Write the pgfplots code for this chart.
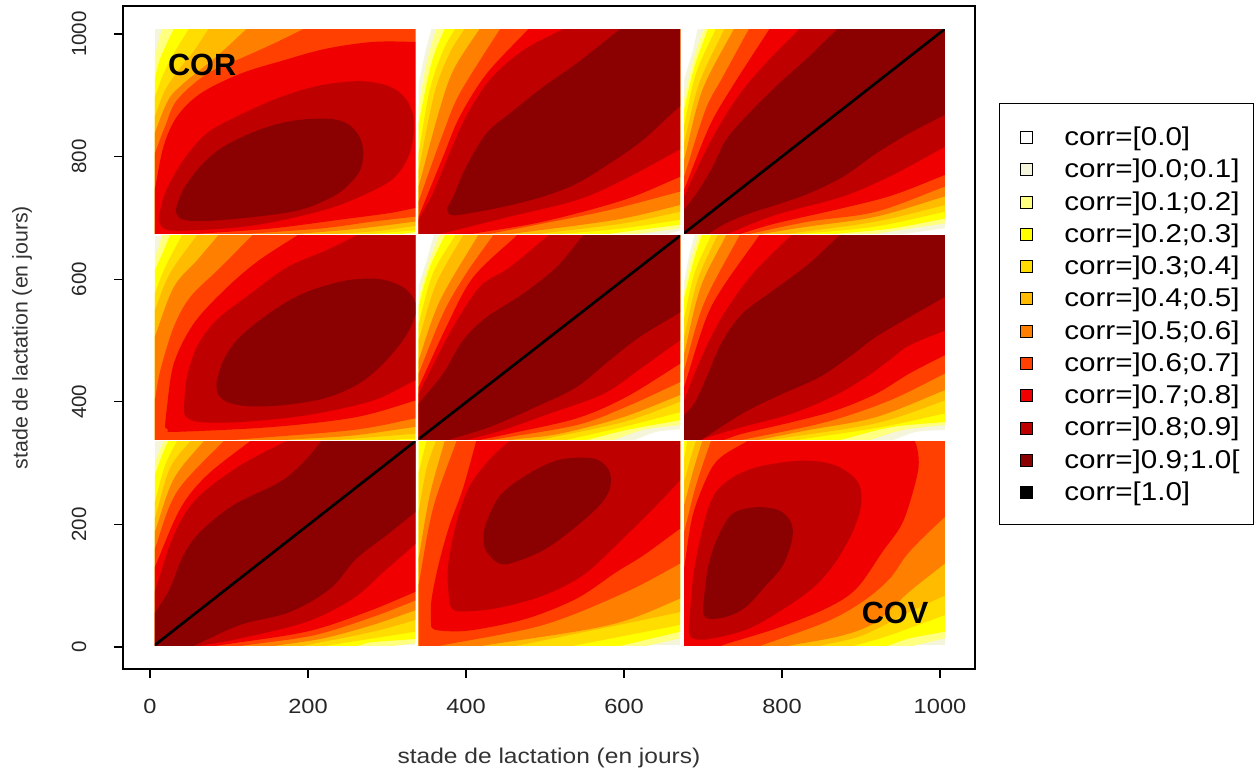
\documentclass[border=0pt]{standalone}
\usepackage{fontspec}
\setmainfont{Liberation Sans}
\newfontfamily\xf[FakeStretch=1.15]{Liberation Sans}
\usepackage{pgfplots}
\pgfplotsset{compat=1.18}
\definecolor{c0}{HTML}{F5F5DC}
\definecolor{c1}{HTML}{FFFF80}
\definecolor{c2}{HTML}{FFFF00}
\definecolor{c3}{HTML}{FFDD00}
\definecolor{c4}{HTML}{FFBB00}
\definecolor{c5}{HTML}{FF8000}
\definecolor{c6}{HTML}{FF4000}
\definecolor{c7}{HTML}{F00000}
\definecolor{c8}{HTML}{BF0000}
\definecolor{c9}{HTML}{8B0000}
\newcommand\rg[2]{\addplot[forget plot,draw=none,fill=#1] coordinates {#2} --cycle;}
\newcommand\rs[2]{\addplot[forget plot,draw=none,fill=#1,smooth,tension=0.55] coordinates {#2} --cycle;}
\newcommand\dg[2]{\addplot[forget plot,black,line width=2pt] coordinates {#1#2};}
\newcommand\li[2]{\addlegendimage{legend image code/.code={\draw[black,fill=#1,line width=0.6pt] (7.2pt,-5.5pt) rectangle (16.2pt,3.5pt);\path[draw=none] (0,0) -- (38.2pt,0);}}\addlegendentry{#2}}
\newcommand\pan[4]{%
 \pgfmathsetmacro\pl{92.25+(#1+34.2)*0.5925}%
 \pgfmathsetmacro\pb{78.75+(#3+35.9)*0.45975}%
 \pgfmathsetmacro\pw{(#2-#1)*0.5925}%
 \pgfmathsetmacro\ph{(#4-#3)*0.45975}%
 \pgfplotsset{pan/.style={hide axis,at={(\pl pt,\pb pt)},anchor=south west,scale only axis,width=\pw pt,height=\ph pt,xmin=#1,xmax=#2,ymin=#3,ymax=#4}}}
\begin{document}
\begin{tikzpicture}
\path[use as bounding box] (0,0) rectangle (941.25pt,580.5pt);
% ---- top left
\pan{6}{336}{675}{1008}
\begin{axis}[pan]
\rg{c0}{(6,675)(6,1008)(336,1008)(336,675)}
\rs{c1}{(-30,640)(5,955)(6,963)(9,979)(15,1008)(18,1022)(372,1044)(372,640)}
\rs{c2}{(-30,640)(3,912)(6,927)(12,957)(21,984)(30,1008)(35,1020)(372,1044)(342,678)(336,677)(325,675)(319,674)}
\rs{c3}{(-30,640)(0,878)(6,897)(17,935)(30,968)(49,1008)(58,1028)(372,1044)(363,684)(336,680)(291,675)(269,672)}
\rs{c4}{(-30,640)(0,844)(6,865)(19,908)(36,941)(56,973)(74,1008)(83,1020)(372,1044)(358,692)(336,687)(291,679)(249,675)(228,673)}
\rs{c5}{(-30,640)(0,811)(6,838)(23,892)(42,919)(84,963)(122,1008)(141,1030)(372,1044)(373,700)(336,694)(261,682)(198,675)(167,671)}
\rs{c6}{(-30,640)(0,783)(6,805)(19,849)(34,892)(72,935)(118,962)(156,984)(194,1008)(213,1020)(372,1044)(363,706)(336,702)(282,694)(219,683)(135,675)(93,671)}
\rs{c7}{(-30,640)(0,711)(6,746)(17,816)(34,865)(64,903)(114,935)(169,957)(223,976)(282,987)(336,987)(372,985)(372,720)(336,716)(304,708)(240,697)(156,683)(72,675)(30,671)}
\rs{c8}{(11,697)(13,713)(21,746)(42,794)(72,838)(114,868)(165,897)(215,916)(266,923)(304,914)(325,892)(334,859)(331,816)(320,783)(299,756)(240,721)(177,699)(114,685)(38,679)(17,683)(11,697)}
\rs{c9}{(33,716)(42,746)(63,783)(89,813)(127,838)(164,854)(198,861)(232,861)(253,851)(266,830)(270,805)(266,778)(253,756)(232,735)(190,713)(135,702)(72,695)(42,697)(33,708)(33,716)}
\end{axis}
% ---- top middle
\pan{340}{671}{675}{1008}
\begin{axis}[pan]
\rs{c0}{(304,640)(336,900)(340,919)(348,968)(356,1008)(360,1028)(707,1044)(690,685)(671,679)(658,675)(652,672)}
\rs{c1}{(304,640)(335,845)(340,881)(350,952)(362,1008)(368,1036)(707,1044)(695,687)(671,683)(624,675)(600,671)}
\rs{c2}{(304,640)(334,816)(340,854)(352,930)(360,968)(373,1008)(380,1028)(707,1044)(714,697)(671,689)(586,675)(544,668)}
\rs{c3}{(304,640)(333,754)(340,805)(354,908)(371,973)(386,1008)(394,1026)(707,1044)(707,704)(671,697)(599,683)(531,675)(497,671)}
\rs{c4}{(304,640)(330,716)(340,778)(360,903)(379,968)(398,1008)(408,1028)(707,1044)(707,719)(671,710)(599,691)(498,675)(447,667)}
\rs{c5}{(304,640)(327,692)(340,751)(365,870)(384,941)(417,1008)(434,1042)(707,1044)(707,733)(671,721)(590,697)(464,675)(401,664)}
\rs{c6}{(304,640)(333,702)(340,727)(354,778)(371,838)(392,903)(443,1008)(469,1060)(707,1044)(707,756)(671,743)(582,713)(498,691)(434,675)(402,667)}
\rs{c7}{(304,640)(325,655)(340,702)(371,800)(392,865)(426,935)(479,1008)(505,1044)(707,1044)(707,786)(671,767)(599,729)(498,694)(413,675)(370,665)}
\rs{c8}{(304,640)(331,675)(340,697)(358,740)(379,805)(400,865)(430,925)(472,973)(523,1008)(550,1026)(707,1044)(707,837)(671,812)(599,762)(540,729)(455,702)(371,675)(355,670)}
\rs{c9}{(376,716)(384,735)(400,783)(426,838)(455,870)(498,914)(540,952)(595,1008)(623,1036)(707,1044)(707,910)(671,882)(624,827)(582,789)(540,756)(498,735)(447,718)(392,705)(379,706)(376,716)}
\end{axis}
% ---- top right
\pan{676}{1006}{675}{1008}
\begin{axis}[pan]
\rs{c0}{(640,640)(673,900)(676,925)(687,973)(693,1008)(696,1026)(1042,1044)(1028,687)(1006,683)(961,675)(939,671)}
\rs{c1}{(640,640)(670,861)(676,895)(689,963)(701,1008)(707,1030)(1042,1044)(1047,699)(1006,691)(923,675)(881,667)}
\rs{c2}{(640,640)(670,841)(676,876)(689,946)(706,1008)(714,1039)(1042,1044)(1039,707)(1006,699)(940,683)(877,675)(845,671)}
\rs{c3}{(640,640)(668,809)(676,851)(691,935)(716,1008)(729,1044)(1042,1044)(1049,722)(1006,710)(919,686)(834,675)(791,670)}
\rs{c4}{(640,640)(666,772)(676,821)(695,919)(727,1008)(743,1052)(1042,1044)(1049,735)(1006,721)(919,694)(813,675)(760,665)}
\rs{c5}{(640,640)(664,737)(676,794)(699,908)(739,1008)(759,1058)(1042,1044)(1049,751)(1006,735)(919,702)(834,686)(780,675)(753,669)}
\rs{c6}{(640,640)(662,712)(676,767)(703,876)(725,930)(758,1008)(774,1047)(1042,1044)(1049,771)(1006,751)(919,710)(834,694)(763,675)(727,665)}
\rs{c7}{(640,640)(660,695)(676,746)(708,849)(737,914)(784,1008)(807,1055)(1042,1044)(1039,787)(1006,770)(940,737)(877,716)(792,691)(750,675)(729,667)}
\rs{c8}{(640,640)(660,692)(676,735)(708,821)(741,892)(775,946)(822,1008)(846,1039)(1042,1044)(1039,839)(1006,816)(940,770)(877,735)(792,705)(733,675)(703,660)}
\rs{c9}{(640,640)(666,696)(676,713)(695,746)(712,783)(729,827)(754,865)(792,914)(834,963)(870,1008)(888,1030)(1042,1044)(1028,883)(1006,868)(961,838)(919,805)(877,767)(834,740)(792,721)(760,708)(730,692)(708,675)(696,664)}
\dg{(676,675)}{(1006,1008)}
\end{axis}
% ---- middle left
\pan{6}{336}{339}{671}
\begin{axis}[pan]
\rg{c0}{(6,339)(6,671)(336,671)(336,339)}
\rs{c1}{(-30,303)(4,628)(6,636)(11,652)(15,671)(17,681)(372,707)(372,303)}
\rs{c2}{(-30,303)(2,600)(6,614)(15,640)(25,671)(30,686)(372,707)(372,303)}
\rs{c3}{(-30,303)(0,554)(6,576)(19,619)(40,671)(50,697)(372,707)(360,342)(336,340)(316,339)(306,337)}
\rs{c4}{(-30,303)(-4,520)(6,549)(25,609)(59,671)(76,702)(372,707)(380,353)(336,348)(249,339)(205,334)}
\rs{c5}{(-30,303)(-6,466)(6,506)(30,587)(59,630)(86,671)(100,692)(372,707)(376,366)(336,359)(257,345)(186,339)(150,336)}
\rs{c6}{(-30,303)(2,378)(6,402)(13,451)(30,522)(51,571)(89,619)(129,671)(149,697)(372,707)(376,382)(336,373)(257,354)(118,339)(48,331)}
\rs{c7}{(19,359)(21,386)(30,462)(55,527)(93,581)(135,628)(186,671)(212,692)(372,707)(372,415)(336,402)(261,375)(156,359)(34,351)(23,354)(19,359)}
\rs{c8}{(43,386)(46,435)(59,489)(84,533)(127,576)(173,619)(223,647)(261,671)(280,683)(372,707)(372,451)(336,435)(282,402)(198,378)(114,367)(63,367)(46,375)(43,386)}
\rs{c9}{(84,430)(93,468)(114,506)(156,549)(198,579)(249,598)(291,600)(320,587)(335,565)(335,538)(320,500)(291,457)(261,427)(219,405)(164,394)(122,393)(97,400)(86,413)(84,430)}
\end{axis}
% ---- middle middle
\pan{340}{671}{339}{671}
\begin{axis}[pan]
\rs{c0}{(304,303)(335,570)(340,590)(350,630)(359,671)(364,691)(707,707)(686,357)(671,355)(641,351)(616,339)(603,333)}
\rs{c1}{(304,303)(334,548)(340,571)(352,625)(366,671)(373,694)(707,707)(695,366)(671,362)(624,354)(590,339)(573,331)}
\rs{c2}{(304,303)(333,526)(340,557)(354,619)(373,671)(383,697)(707,707)(705,378)(671,370)(603,354)(557,339)(534,331)}
\rs{c3}{(304,303)(331,486)(340,527)(358,609)(386,671)(400,702)(707,707)(707,395)(671,383)(599,359)(531,339)(497,329)}
\rs{c4}{(304,303)(329,454)(340,500)(362,592)(396,671)(413,710)(707,707)(707,416)(671,400)(599,367)(498,339)(448,325)}
\rs{c5}{(304,303)(327,419)(340,468)(367,565)(415,671)(439,724)(707,707)(707,429)(671,411)(599,375)(519,348)(464,339)(437,334)}
\rs{c6}{(304,303)(325,397)(340,446)(371,544)(400,609)(434,671)(451,702)(707,707)(707,452)(671,432)(603,392)(540,362)(438,339)(387,327)}
\rs{c7}{(304,303)(322,375)(340,424)(375,522)(409,603)(464,671)(491,705)(707,707)(707,489)(671,462)(603,408)(540,373)(455,348)(422,339)(405,334)}
\rs{c8}{(304,303)(320,364)(340,413)(379,511)(417,587)(455,619)(504,671)(529,697)(707,707)(707,525)(671,500)(624,457)(574,413)(506,381)(447,354)(405,339)(385,331)}
\rs{c9}{(304,303)(324,372)(340,397)(371,446)(396,500)(426,538)(472,576)(514,619)(548,671)(565,697)(707,707)(707,576)(671,546)(620,506)(582,468)(540,424)(489,392)(430,359)(381,339)(360,329)}
\dg{(340,339)}{(671,671)}
\end{axis}
% ---- middle right
\pan{676}{1006}{339}{671}
\begin{axis}[pan]
\rs{c0}{(640,303)(673,575)(676,595)(682,636)(689,671)(692,689)(1042,707)(1024,356)(1006,354)(970,351)(944,339)(931,333)}
\rs{c1}{(640,303)(672,553)(676,579)(684,630)(694,671)(699,691)(1042,707)(1033,366)(1006,362)(953,354)(915,339)(896,331)}
\rs{c2}{(640,303)(671,540)(676,568)(687,625)(698,671)(704,694)(1042,707)(1039,371)(1006,367)(940,359)(877,339)(845,329)}
\rs{c3}{(640,303)(670,498)(676,535)(689,609)(710,671)(721,702)(1042,707)(1046,392)(1006,381)(927,359)(826,339)(776,329)}
\rs{c4}{(640,303)(667,460)(676,506)(693,598)(718,671)(731,707)(1042,707)(1049,420)(1006,402)(919,365)(792,339)(729,326)}
\rs{c5}{(640,303)(665,423)(676,478)(697,587)(729,671)(745,713)(1042,707)(1049,441)(1006,419)(919,375)(834,354)(775,339)(745,331)}
\rs{c6}{(640,303)(664,396)(676,451)(701,560)(746,671)(769,726)(1042,707)(1041,468)(1006,446)(936,402)(856,367)(754,339)(703,325)}
\rs{c7}{(640,303)(662,369)(676,424)(703,533)(725,587)(771,671)(794,713)(1042,707)(1039,498)(1006,476)(961,446)(919,413)(868,386)(813,367)(750,348)(729,339)(703,329)}
\rs{c8}{(640,303)(668,378)(676,402)(691,451)(708,500)(729,549)(763,609)(811,671)(835,702)(1042,707)(1028,527)(1006,516)(961,492)(936,468)(906,440)(868,411)(813,381)(750,359)(708,343)(690,333)}
\rs{c9}{(640,303)(668,365)(676,378)(691,402)(708,451)(725,500)(750,544)(788,581)(834,625)(872,671)(891,694)(1042,707)(1028,587)(1006,571)(961,538)(919,506)(885,473)(847,440)(792,408)(750,381)(699,339)(687,329)}
\end{axis}
% ---- bottom left
\pan{6}{336}{3}{336}
\begin{axis}[pan]
\rg{c0}{(6,3)(6,336)(336,336)(336,3)}
\rs{c1}{(-30,-33)(3,290)(6,301)(13,323)(17,336)(19,343)(372,372)(346,7)(336,6)(316,3)(306,1)}
\rs{c2}{(-30,-33)(2,264)(6,280)(15,312)(23,336)(27,348)(372,372)(363,16)(336,13)(282,8)(266,3)(258,1)}
\rs{c3}{(-30,-33)(0,206)(6,236)(19,296)(34,336)(41,356)(372,372)(363,31)(336,25)(282,14)(228,3)(201,-3)}
\rs{c4}{(-30,-33)(-4,168)(6,209)(25,291)(51,336)(64,358)(372,372)(363,54)(336,44)(282,25)(198,3)(156,-8)}
\rs{c5}{(-30,-33)(-6,144)(6,187)(30,274)(68,336)(87,367)(372,372)(363,72)(336,60)(282,36)(219,14)(164,3)(136,-3)}
\rs{c6}{(-30,-33)(-8,114)(6,160)(34,253)(93,336)(122,377)(372,372)(363,90)(336,76)(282,49)(207,19)(122,3)(80,-5)}
\rs{c7}{(-30,-33)(-10,83)(6,130)(38,225)(72,280)(127,336)(155,364)(372,372)(367,107)(336,90)(274,57)(198,25)(89,3)(35,-8)}
\rs{c8}{(-30,-33)(-6,44)(6,90)(30,182)(59,242)(114,296)(173,336)(202,356)(372,372)(356,191)(336,168)(295,122)(257,79)(198,41)(114,14)(68,3)(45,-3)}
\rs{c9}{(-30,-33)(-4,35)(6,55)(25,95)(42,149)(63,187)(105,231)(164,269)(194,301)(217,336)(228,353)(372,372)(355,239)(336,220)(299,182)(261,144)(228,95)(177,57)(114,36)(57,3)(28,-13)}
\dg{(6,3)}{(336,336)}
\end{axis}
% ---- bottom middle
\pan{340}{671}{3}{336}
\begin{axis}[pan]
\rg{c0}{(340,3)(340,336)(671,336)(671,3)}
\rs{c1}{(304,-33)(304,372)(707,372)(690,19)(671,14)(633,3)(614,-3)}
\rs{c2}{(304,-33)(304,372)(707,372)(707,36)(671,25)(599,3)(563,-8)}
\rs{c3}{(304,-33)(335,260)(340,285)(350,336)(355,362)(707,372)(700,44)(671,36)(540,3)(475,-13)}
\rs{c4}{(304,-33)(335,185)(340,220)(350,291)(362,336)(368,358)(707,372)(700,68)(671,57)(468,3)(404,-13)}
\rs{c5}{(304,-33)(333,92)(340,144)(354,247)(373,336)(382,380)(707,372)(707,101)(671,79)(582,36)(426,3)(348,-13)}
\rs{c6}{(304,-33)(331,39)(340,101)(358,225)(388,336)(403,391)(707,372)(707,159)(671,136)(603,90)(498,36)(371,3)(320,-10)}
\rs{c7}{(356,33)(356,74)(365,133)(379,198)(396,258)(413,336)(422,375)(707,372)(707,225)(671,193)(624,149)(590,122)(540,79)(476,46)(405,27)(365,27)(356,33)}
\rs{c8}{(379,74)(377,128)(388,204)(405,263)(430,306)(455,336)(470,351)(707,372)(686,292)(671,272)(641,231)(590,166)(548,117)(498,84)(438,63)(392,58)(381,65)(379,74)}
\rs{c9}{(422,182)(426,204)(443,247)(476,280)(514,304)(548,309)(569,304)(582,285)(582,258)(569,231)(536,193)(498,158)(455,136)(438,139)(424,160)(422,182)}
\end{axis}
% ---- bottom right
\pan{676}{1006}{3}{336}
\begin{axis}[pan]
\rg{c0}{(676,3)(676,336)(1006,336)(1006,3)}
\rs{c1}{(640,-33)(640,372)(1042,372)(1024,19)(1006,14)(970,3)(952,-3)}
\rs{c2}{(640,-33)(640,372)(1042,372)(1029,31)(1006,25)(961,14)(936,3)(920,-3)}
\rs{c3}{(640,-33)(671,292)(676,307)(680,336)(682,350)(1042,372)(1041,68)(1006,52)(936,19)(894,3)(873,-5)}
\rs{c4}{(640,-33)(669,250)(676,269)(684,307)(691,336)(695,350)(1042,372)(1028,98)(1006,84)(961,57)(902,19)(851,3)(825,-5)}
\rs{c5}{(640,-33)(670,204)(676,231)(687,285)(699,336)(705,361)(1042,372)(1028,159)(1006,136)(961,90)(919,41)(877,19)(813,3)(781,-5)}
\rs{c6}{(640,-33)(668,149)(676,187)(691,263)(710,336)(720,372)(1042,372)(1034,241)(1006,212)(961,155)(936,111)(902,74)(856,41)(775,3)(735,-16)}
\rs{c7}{(640,-33)(670,85)(676,128)(687,215)(708,285)(725,312)(756,336)(770,352)(955,352)(968,336)(973,307)(970,274)(953,204)(927,155)(894,95)(856,63)(792,30)(725,3)(700,-12)}
\rs{c8}{(682,25)(689,128)(708,231)(729,269)(767,293)(826,304)(868,296)(896,269)(900,231)(889,187)(868,139)(843,101)(809,68)(758,30)(708,13)(687,14)(682,25)}
\rs{c9}{(700,63)(706,128)(718,177)(737,217)(767,228)(796,223)(811,204)(813,177)(801,133)(780,101)(754,65)(729,49)(708,46)(701,52)(700,63)}
\end{axis}
% ---- frame, ticks, labels, legend
\begin{axis}[
  at={(92.25pt,78.75pt)},anchor=south west,
  scale only axis,width=639pt,height=497.25pt,
  xmin=-34.2,xmax=1044.3,ymin=-35.9,ymax=1045.7,
  xtick={0,200,400,600,800,1000},ytick={0,200,400,600,800,1000},
  scaled ticks=false,
  tick align=outside,tick pos=left,major tick length=7pt,
  every tick/.style={black,line width=0.8pt},
  axis line style={line width=0.8pt},
  /pgf/number format/assume math mode=true,
  /pgf/number format/set thousands separator={},
  xticklabel style={yshift=-12pt,font=\xf\fontsize{15.4}{18}\selectfont,color=black!85},
  yticklabel style={rotate=90,anchor=south,yshift=17pt,font=\fontsize{15.4}{18}\selectfont,color=black!85},
  xlabel={stade de lactation (en jours)},
  ylabel={stade de lactation (en jours)},
  every axis x label/.style={at={(axis description cs:0.5,-0.134)},anchor=center,font=\xf\fontsize{16}{18}\selectfont,color=black!80},
  every axis y label/.style={at={(axis description cs:-0.1185,0.5)},rotate=90,anchor=center,font=\fontsize{16}{18}\selectfont,color=black!80},
  legend cell align=left,
  legend style={at={(axis description cs:1.0282,0.8537)},anchor=north west,
    draw=black,line width=0.6pt,inner xsep=8.5pt,inner ysep=12.6pt,row sep=0.2pt,
    font=\xf\fontsize{19.3}{22}\selectfont,
    nodes={text height=17pt,text depth=3pt,inner ysep=2pt}},
]
\node[font=\bfseries\fontsize{23}{26}\selectfont] at (axis cs:66,949) {COR};
\node[font=\bfseries\fontsize{23}{26}\selectfont] at (axis cs:943,55) {COV};
\li{white}{corr=[0.0]}
\li{c0}{corr=]0.0;0.1]}
\li{c1}{corr=]0.1;0.2]}
\li{c2}{corr=]0.2;0.3]}
\li{c3}{corr=]0.3;0.4]}
\li{c4}{corr=]0.4;0.5]}
\li{c5}{corr=]0.5;0.6]}
\li{c6}{corr=]0.6;0.7]}
\li{c7}{corr=]0.7;0.8]}
\li{c8}{corr=]0.8;0.9]}
\li{c9}{corr=]0.9;1.0[}
\li{black}{corr=[1.0]}
\end{axis}
\end{tikzpicture}
\end{document}
